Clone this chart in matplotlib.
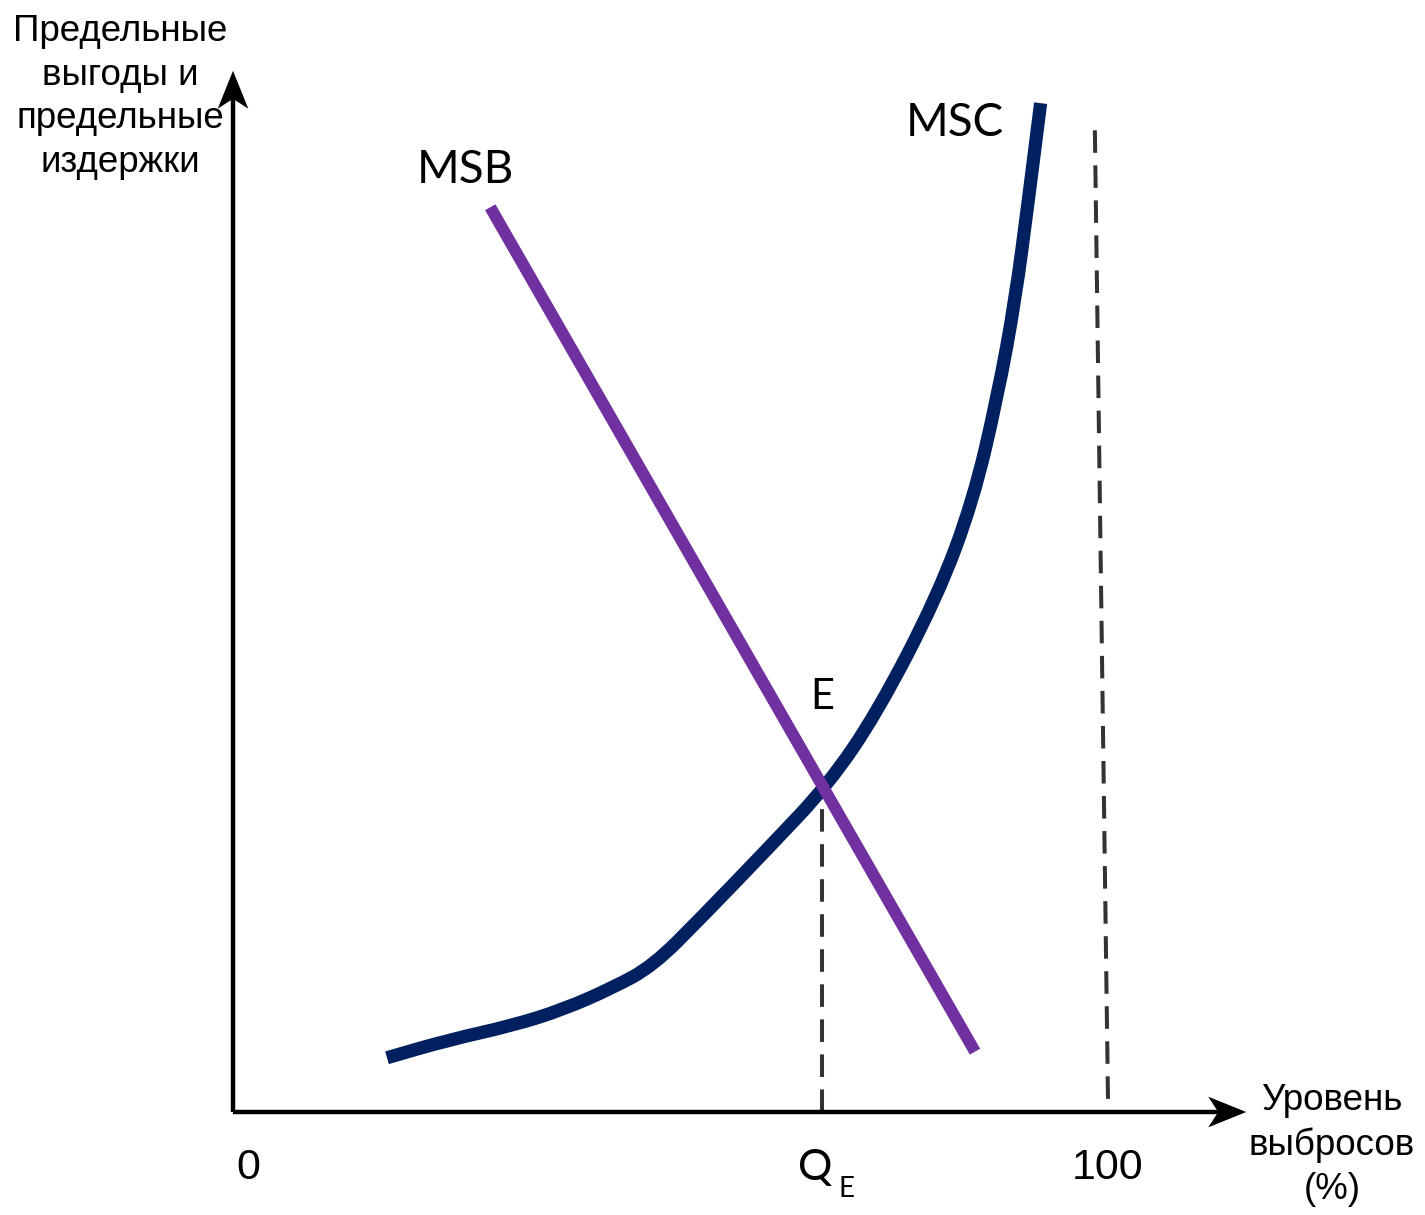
import matplotlib
matplotlib.use("Agg")
import matplotlib.pyplot as plt
from matplotlib.patches import Polygon, PathPatch
from matplotlib.path import Path

# ---- data (x: emissions level %, y: marginal benefit / cost, arbitrary units) ----
msc_x = [17.6, 24.5, 32.0, 37.7, 43.4, 48.0, 53.6, 61.4, 68.0, 73.6, 80.5, 84.6,
         87.4, 89.4, 90.9, 92.3]
msc_y = [6.2, 8.2, 9.9, 11.7, 14.2, 16.7, 22.3, 30.4, 37.4, 45.6, 58.9, 69.9,
         81.9, 92.8, 104.2, 115.3]
msb_x = [29.4, 84.8]
msb_y = [103.4, 6.9]
q_e = 67.3
e_y = 37.4
hundred_x = [98.5, 100.0]
hundred_y = [112.2, 1.4]
x_ticks = [0, 100]
x_tick_labels = ["0", "100"]
x_max = 115.8
y_max = 119.0

fig = plt.figure(figsize=(14.25, 12.15), dpi=100)
ax = fig.add_axes([0, 0, 1, 1])
ax.set_xlim(-26.63, 136.23)
ax.set_ylim(-11.77, 127.09)
ax.axis("off")

# axes lines with notched arrow heads
hl, hw, notch = 4.34, 1.75, 3.2
ax.plot([0, x_max - notch], [0, 0], color="black", lw=3.2, solid_capstyle="butt", zorder=5)
ax.plot([0, 0], [0, y_max - notch], color="black", lw=3.2, solid_capstyle="butt", zorder=5)
ax.add_patch(Polygon([(x_max, 0), (x_max - hl, hw), (x_max - notch, 0), (x_max - hl, -hw)],
                     closed=True, color="black", lw=0, zorder=5))
ax.add_patch(Polygon([(0, y_max), (-hw, y_max - hl), (0, y_max - notch), (hw, y_max - hl)],
                     closed=True, color="black", lw=0, zorder=5))

# dashed reference lines
ax.plot([q_e, q_e], [0, e_y - 1.2], color="#333333", lw=2.9, ls=(0, (5.6, 3.1)), zorder=2)
ax.plot(hundred_x, hundred_y, color="#333333", lw=2.9, ls=(0, (5.6, 3.1)), zorder=2)

# MSC: smooth quadratic path through the read points (points used as control points)
pts = list(zip(msc_x, msc_y))
verts = [pts[0], ((pts[0][0] + pts[1][0]) / 2, (pts[0][1] + pts[1][1]) / 2)]
codes = [Path.MOVETO, Path.LINETO]
for i in range(1, len(pts) - 1):
    mid = ((pts[i][0] + pts[i + 1][0]) / 2, (pts[i][1] + pts[i + 1][1]) / 2)
    verts += [pts[i], mid]
    codes += [Path.CURVE3, Path.CURVE3]
verts.append(pts[-1])
codes.append(Path.LINETO)
ax.add_patch(PathPatch(Path(verts, codes), facecolor="none", edgecolor="#002060",
                       lw=9.5, capstyle="butt", joinstyle="round", zorder=3))

ax.plot(msb_x, msb_y, color="#7030A0", lw=8.6, solid_capstyle="butt", zorder=4)

arial = "Liberation Sans"
geo = "Lato"

ax.text(-12.9, 116.0, "Предельные\nвыгоды и\nпредельные\nиздержки", ha="center", va="center",
        fontsize=26.5, family=arial, linespacing=1.33)
ax.text(125.6, -3.8, "Уровень\nвыбросов\n(%)", ha="center", va="center",
        fontsize=26.5, family=arial, linespacing=1.33)

ax.text(26.5, 107.7, "MSB", ha="center", va="center", fontsize=33, family=geo)
ax.text(82.5, 113.0, "MSC", ha="center", va="center", fontsize=33, family=geo)
ax.text(67.4, 47.4, "E", ha="center", va="center", fontsize=30, family=geo)

for xv, lab in zip(x_ticks, x_tick_labels):
    ax.text(xv + (1.7 if xv == 0 else 0), -6.4, lab, ha="center", va="center",
            fontsize=31, family=arial)
ax.text(q_e - 0.8, -6.4, "Q", ha="center", va="center", fontsize=31, family=geo)
ax.text(q_e + 2.8, -8.8, "E", ha="center", va="center", fontsize=20, family=geo)

fig.savefig("out.png", dpi=100)
